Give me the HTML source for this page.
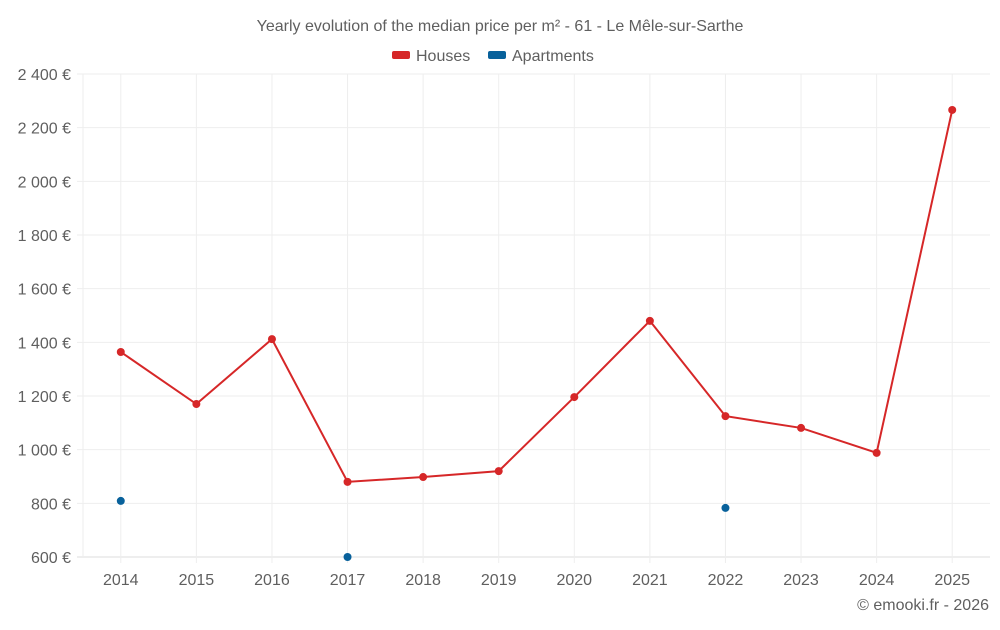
<!DOCTYPE html>
<html><head><meta charset="utf-8">
<style>
body{margin:0;background:#fff;font-family:"Liberation Sans",sans-serif;}
svg text{font-family:"Liberation Sans",sans-serif;fill:#5f5f5f;}
</style></head>
<body>
<svg id="chart" width="1000" height="625">
<text x="500" y="31" text-anchor="middle" font-size="16">Yearly evolution of the median price per m² - 61 - Le Mêle-sur-Sarthe</text>
<g>
<g><rect x="392" y="51" width="18" height="8" rx="2" fill="#d62728"/><text x="416" y="61" font-size="16">Houses</text></g>
<g><rect x="488" y="51" width="18" height="8" rx="2" fill="#08619b"/><text x="512" y="61" font-size="16">Apartments</text></g>
</g>
<g id="grid"></g><g id="axes"></g><g id="marks"></g>
<text x="989" y="610" text-anchor="end" font-size="16">© emooki.fr - 2026</text>
</svg>
<script>
const years=[2014,2015,2016,2017,2018,2019,2020,2021,2022,2023,2024,2025];
const houses=[1364,1170,1412,880,898,920,1196,1480,1125,1081,988,2266];
const apartments=[809,null,null,600,null,null,null,null,783,null,null,null];
const yTicks=[600,800,1000,1200,1400,1600,1800,2000,2200,2400];
const L=83,R=990,T=74,B=557;
const step=(R-L)/years.length;
function x(i){return L+step*(i+0.5);}
function y(v){return B-(v-600)/(2400-600)*(B-T);}
const NS="http://www.w3.org/2000/svg";
function mk(tag,attrs,parent){const e=document.createElementNS(NS,tag);for(const k in attrs)e.setAttribute(k,attrs[k]);document.getElementById(parent).appendChild(e);return e;}
yTicks.forEach(v=>{
 const g=mk('line',{x1:L-6,x2:R,y1:y(v),y2:y(v),stroke:v===600?'#ddd':'#eee'},'grid');
 
 
 const t=mk('text',{x:71,y:y(v)+6,'text-anchor':'end','font-size':16},'axes');
 t.textContent=v.toLocaleString('fr-FR').replace(/\s/g,' ')+' €';
 
 
});
const la=mk('line',{x1:L,x2:L,y1:T,y2:B,stroke:'#eee'},'grid');


years.forEach((yr,i)=>{
 const l=mk('line',{x1:x(i),x2:x(i),y1:T,y2:B+6,stroke:'#eee'},'grid');
 
 
 const t=mk('text',{x:x(i),y:585,'text-anchor':'middle','font-size':16},'axes');
 t.textContent=yr;
 
 
});
const p=mk('polyline',{points:houses.map((v,i)=>x(i)+','+y(v)).join(' '),fill:'none',stroke:'#d62728','stroke-width':2},'marks');


houses.forEach((v,i)=>{
 const c=mk('circle',{cx:x(i),cy:y(v),r:4,fill:'#d62728'},'marks');
 
 
});
apartments.forEach((v,i)=>{
 if(v==null)return;
 const c=mk('circle',{cx:x(i),cy:y(v),r:4,fill:'#08619b'},'marks');
 
 
});
</script>
</body></html>
